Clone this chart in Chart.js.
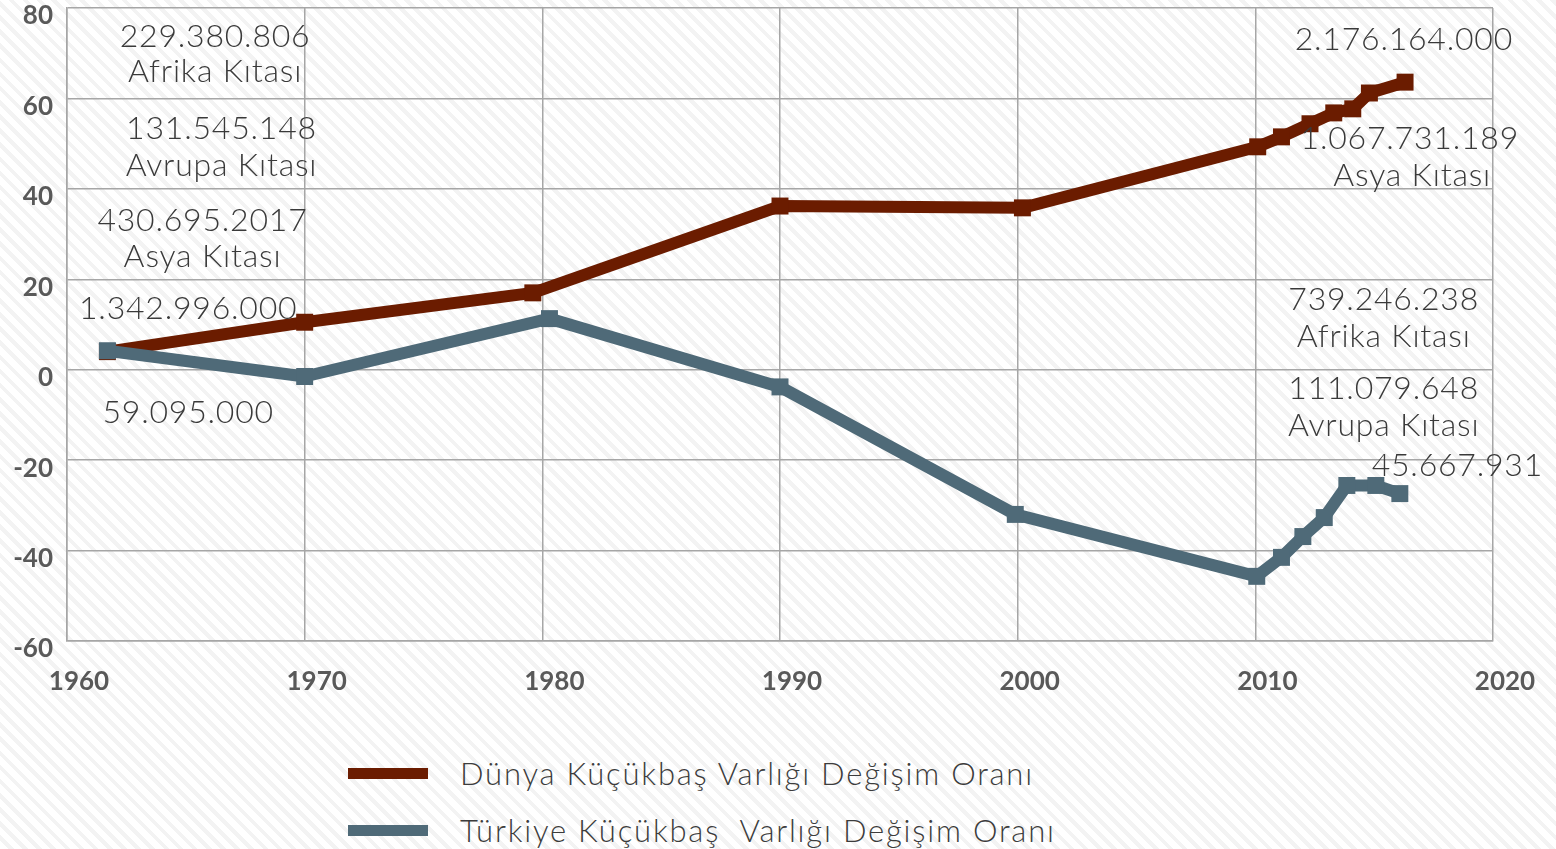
<!DOCTYPE html>
<html>
<head>
<meta charset="utf-8">
<script src="https://cdn.jsdelivr.net/npm/chart.js@4.4.1/dist/chart.umd.min.js"></script>
<style>
  html, body { margin: 0; padding: 0; }
  body {
    width: 1556px; height: 849px; overflow: hidden; position: relative;
    background: repeating-linear-gradient(45deg, #ffffff 0px, #ffffff 6px, #f3f3f3 6px, #f3f3f3 10px);
    font-family: "Lato", "Open Sans", sans-serif;
  }
  #wrap { position: absolute; left: 0; top: 0; width: 1556px; height: 720px; }
  .legend { position: absolute; left: 348px; font-family: "Lato", sans-serif; font-weight: 300; font-size: 31px; letter-spacing: 1.8px; color: #3c3c3c; white-space: pre; }
  .legend .item { position: absolute; left: 0; height: 40px; display: flex; align-items: center; }
  .legend .swatch { width: 80px; height: 11px; margin-right: 32px; }
</style>
</head>
<body>
<div id="wrap"><canvas id="c"></canvas></div>
<div class="legend" id="legend"></div>
<script>
// ---- data ----
const seriesNames = ["Dünya Küçükbaş Varlığı Değişim Oranı", "Türkiye Küçükbaş  Varlığı Değişim Oranı"];
const worldYears  = [1961.7, 1970, 1979.6, 1990, 2000.2, 2010.1, 2011.1, 2012.3, 2013.3, 2014.1, 2014.8, 2016.3];
const worldValues = [4.0, 10.5, 17.0, 36.2, 35.8, 49.3, 51.5, 54.4, 56.8, 57.7, 61.2, 63.6];
const turkeyYears  = [1961.7, 1970, 1980.3, 1990, 1999.9, 2010.06, 2011.1, 2012.0, 2012.9, 2013.85, 2015.07, 2016.08];
const turkeyValues = [4.2, -1.5, 11.3, -3.8, -32.0, -45.7, -41.5, -36.9, -32.7, -25.6, -25.6, -27.4];
const xTicks = [1960, 1970, 1980, 1990, 2000, 2010, 2020];
const yTicks = [-60, -40, -20, 0, 20, 40, 60, 80];
const annotationTexts = [
  "229.380.806", "Afrika Kıtası", "131.545.148", "Avrupa Kıtası",
  "430.695.2017", "Asya Kıtası", "1.342.996.000", "59.095.000",
  "2.176.164.000", "1.067.731.189", "Asya Kıtası",
  "739.246.238", "Afrika Kıtası", "111.079.648", "Avrupa Kıtası", "45.667.931"
];
// ---- layout / style ----
const colors = ["#6b1c00", "#4f6a78"];
const annotationAnchors = [ // [year, value] where each text is centred
  [1966.23, 73.6], [1966.23, 65.9], [1966.5, 53.3], [1966.5, 45.1],
  [1965.7, 32.9], [1965.7, 25.0], [1965.1, 13.5], [1965.1, -9.5],
  [2016.25, 72.9], [2016.5, 51.0], [2016.6, 42.9],
  [2015.4, 15.5], [2015.4, 7.3], [2015.4, -4.2], [2015.4, -12.4], [2018.5, -21.2]
];

const toPoints = (xs, ys) => xs.map((x, i) => ({ x: x, y: ys[i] }));

const annotationPlugin = {
  id: 'textNotes',
  afterDatasetsDraw(chart) {
    const { ctx, scales: { x, y } } = chart;
    ctx.save();
    ctx.font = '300 32px Lato, "Open Sans", sans-serif';
    if ('letterSpacing' in ctx) ctx.letterSpacing = '0.8px';
    ctx.fillStyle = '#3a3a3a';
    ctx.textAlign = 'center';
    ctx.textBaseline = 'middle';
    annotationTexts.forEach((t, i) => {
      const a = annotationAnchors[i];
      ctx.fillText(t, x.getPixelForValue(a[0]), y.getPixelForValue(a[1]));
    });
    ctx.restore();
  }
};

const gridColor = '#a6a6a6';
const tickFont = { family: 'Lato, "Open Sans", sans-serif', weight: 'bold', size: 26 };
const plain = v => String(v);

new Chart(document.getElementById('c'), {
  type: 'line',
  data: {
    datasets: [
      { label: seriesNames[0], data: toPoints(worldYears, worldValues), borderColor: colors[0], backgroundColor: colors[0],
        borderWidth: 12, pointStyle: 'rect', pointRadius: 12, pointBorderWidth: 0, pointBackgroundColor: colors[0], order: 1, tension: 0, borderJoinStyle: 'round' },
      { label: seriesNames[1], data: toPoints(turkeyYears, turkeyValues), borderColor: colors[1], backgroundColor: colors[1],
        borderWidth: 12, pointStyle: 'rect', pointRadius: 12, pointBorderWidth: 0, pointBackgroundColor: colors[1], order: 0, tension: 0, borderJoinStyle: 'round' }
    ]
  },
  options: {
    responsive: true,
    maintainAspectRatio: false,
    animation: false,
    layout: { autoPadding: false, padding: { left: 0, right: 63, top: 8, bottom: 0 } },
    plugins: { legend: { display: false }, tooltip: { enabled: false } },
    scales: {
      x: {
        type: 'linear', min: 1960, max: 2020,
        afterBuildTicks: s => { s.ticks = xTicks.map(v => ({ value: v })); },
        ticks: { font: tickFont, color: '#595959', padding: 25, labelOffset: 12, maxRotation: 0, callback: plain },
        grid: { color: gridColor, lineWidth: 1.5, drawTicks: false },
        border: { color: gridColor, width: 1.5 },
        afterFit: s => { s.height = 720 - 641; s.paddingLeft = 0; s.paddingRight = 0; }
      },
      y: {
        type: 'linear', min: -60, max: 80,
        afterBuildTicks: s => { s.ticks = yTicks.map(v => ({ value: v })); },
        ticks: { font: tickFont, color: '#595959', padding: 14, labelOffset: 8, callback: plain },
        grid: { color: gridColor, lineWidth: 1.5, drawTicks: false },
        border: { color: gridColor, width: 1.5 },
        afterFit: s => { s.width = 67; s.paddingTop = 0; s.paddingBottom = 0; }
      }
    }
  },
  plugins: [annotationPlugin]
});

// HTML legend (stacked vertically like the reference)
const legend = document.getElementById('legend');
const legendTops = [753, 810];
seriesNames.forEach((n, i) => {
  const d = document.createElement('div');
  d.className = 'item';
  d.style.top = legendTops[i] + 'px';
  const sw = document.createElement('span'); sw.className = 'swatch'; sw.style.background = colors[i];
  const tx = document.createElement('span'); tx.textContent = n;
  d.appendChild(sw); d.appendChild(tx);
  legend.appendChild(d);
});
</script>
</body>
</html>
